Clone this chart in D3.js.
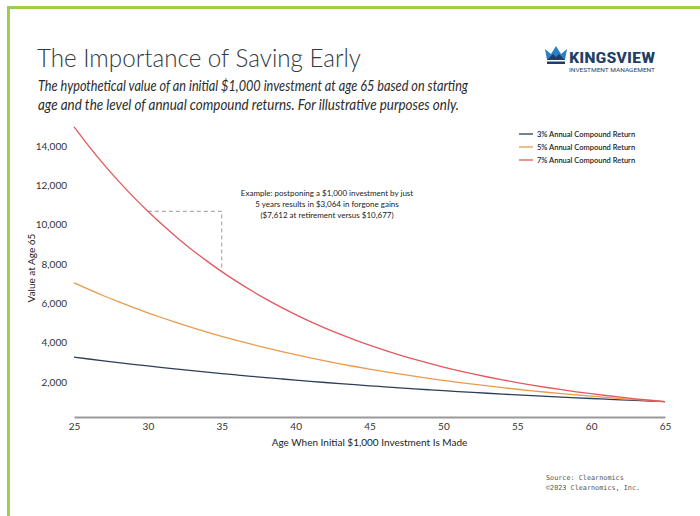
<!DOCTYPE html>
<html><head><meta charset="utf-8">
<script src="https://cdn.jsdelivr.net/npm/d3@7"></script>
<style>
html,body{margin:0;padding:0;background:#fff;}
svg{display:block;}
</style></head>
<body>
<svg id="chart" width="700" height="516"></svg>
<script>
const ages = d3.range(25, 66);
const xTicks = [25, 30, 35, 40, 45, 50, 55, 60, 65];
const yTicks = [2000, 4000, 6000, 8000, 10000, 12000, 14000];
const seriesNames = ["3% Annual Compound Return", "5% Annual Compound Return", "7% Annual Compound Return"];
const seriesColors = ["#2d3d5a", "#ea9a4c", "#e2585e"];
const r3 = [3262, 3167, 3075, 2985, 2898, 2814, 2732, 2652, 2575, 2500, 2427, 2357, 2288, 2221, 2157, 2094, 2033, 1974, 1916, 1860, 1806, 1754, 1702, 1653, 1605, 1558, 1513, 1469, 1426, 1384, 1344, 1305, 1267, 1230, 1194, 1159, 1126, 1093, 1061, 1030, 1000];
const r5 = [7040, 6705, 6385, 6081, 5792, 5516, 5253, 5003, 4765, 4538, 4322, 4116, 3920, 3733, 3556, 3386, 3225, 3072, 2925, 2786, 2653, 2527, 2407, 2292, 2183, 2079, 1980, 1886, 1796, 1710, 1629, 1551, 1477, 1407, 1340, 1276, 1216, 1158, 1103, 1050, 1000];
const r7 = [14974, 13995, 13079, 12224, 11424, 10677, 9978, 9325, 8715, 8145, 7612, 7114, 6649, 6214, 5807, 5427, 5072, 4741, 4430, 4141, 3870, 3617, 3380, 3159, 2952, 2759, 2579, 2410, 2252, 2105, 1967, 1838, 1718, 1606, 1501, 1403, 1311, 1225, 1145, 1070, 1000];
const exampleAges = [30, 35];
const exampleValues = [10677, 7612];
const annotationLines = ["Example: postponing a $1,000 investment by just", "5 years results in $3,064 in forgone gains", "($7,612 at retirement versus $10,677)"];

const svg = d3.select("#chart");
const sans = "'Source Sans Pro', Lato, 'Open Sans', sans-serif";

// green frame
svg.append("rect").attr("x", 7).attr("y", 6).attr("width", 700).attr("height", 3).attr("fill", "#9ccf4a");
svg.append("rect").attr("x", 7).attr("y", 6).attr("width", 3).attr("height", 520).attr("fill", "#9ccf4a");

// Title & subtitle
svg.append("text").attr("x", 37).attr("y", 67).text("The Importance of Saving Early")
  .style("font-family", "Lato, sans-serif").style("font-weight", 300).style("font-size", "25px").attr("fill", "#333a40")
  .attr("textLength", 324).attr("lengthAdjust", "spacingAndGlyphs");
const sub = ["The hypothetical value of an initial $1,000 investment at age 65 based on starting",
             "age and the level of annual compound returns. For illustrative purposes only."];
const subLen = [430, 421];
svg.selectAll("text.sub").data(sub).enter().append("text").attr("class", "sub")
  .attr("x", 38).attr("y", (d, i) => 91 + i * 19).text(d => d)
  .attr("textLength", (d, i) => subLen[i]).attr("lengthAdjust", "spacingAndGlyphs")
  .style("font-family", "Lato, sans-serif").style("font-style", "italic").style("font-size", "14.5px").attr("fill", "#2b2b2b");

// Logo
const logo = svg.append("g").attr("transform", "translate(545,46)");
logo.append("path").attr("d", "M0,3 L6,8 L11,0 L16,8 L22,3 L20,14 L2,14 Z").attr("fill", "#2a82c4");
logo.append("path").attr("d", "M2,14 L8,8 L11,11 L14,8 L20,14 Z").attr("fill", "#1f3f66");
logo.append("rect").attr("x", 2).attr("y", 15.5).attr("width", 18).attr("height", 2.5).attr("fill", "#1f3f66");
svg.append("text").attr("x", 569).attr("y", 63).text("KINGSVIEW")
  .style("font-family", "'Roboto Condensed', Roboto, sans-serif").style("font-weight", 700).style("font-size", "15px")
  .attr("fill", "#1f3f66").attr("textLength", 86).attr("lengthAdjust", "spacingAndGlyphs");
svg.append("text").attr("x", 569).attr("y", 72).text("INVESTMENT MANAGEMENT")
  .style("font-family", "Roboto, sans-serif").style("font-size", "5.5px")
  .attr("fill", "#1f3f66").attr("textLength", 86).attr("lengthAdjust", "spacingAndGlyphs");

// scales
const x = d3.scaleLinear().domain([25, 65]).range([74, 665]);
const y = d3.scaleLinear().domain([0, 15000]).range([421.3, 126.3]);

// baseline axis
const xAxis = d3.axisBottom(x).tickValues(xTicks).tickSize(0).tickPadding(6).tickFormat(d3.format("d"));
const gx = svg.append("g").attr("transform", "translate(0,417)").call(xAxis);
gx.select(".domain").attr("stroke", "#9a9a9a").attr("stroke-width", 2);
gx.selectAll("text").style("font-family", sans).style("font-size", "10px").attr("fill", "#333");

const yAxis = d3.axisLeft(y).tickValues(yTicks).tickSize(0).tickPadding(0).tickFormat(d3.format(","));
const gy = svg.append("g").attr("transform", "translate(74,0)").call(yAxis);
gy.select(".domain").remove();
gy.selectAll("text").attr("x", -7).style("font-family", sans).style("font-size", "10px").attr("fill", "#333");

// axis titles
svg.append("text").attr("x", x(45)).attr("y", 446).attr("text-anchor", "middle")
  .text("Age When Initial $1,000 Investment Is Made")
  .style("font-family", sans).style("font-size", "10px").attr("fill", "#222");
svg.append("text").attr("transform", "translate(35,268) rotate(-90)").attr("text-anchor", "middle")
  .text("Value at Age 65")
  .style("font-family", sans).style("font-size", "10px").attr("fill", "#222");

// annotation dashed lines
svg.append("path")
  .attr("d", d3.line()([[x(exampleAges[0]), y(exampleValues[0])], [x(exampleAges[1]), y(exampleValues[0])], [x(exampleAges[1]), y(exampleValues[1])]]))
  .attr("fill", "none").attr("stroke", "#9a9a9a").attr("stroke-width", 1).attr("stroke-dasharray", "4,3");

// lines
const seriesData = [r3, r5, r7];
const line = d3.line().x((d, i) => x(ages[i])).y(d => y(d)).curve(d3.curveMonotoneX);
svg.selectAll("path.series").data(seriesData).enter().append("path").attr("class", "series")
  .attr("d", line).attr("fill", "none").attr("stroke", (d, i) => seriesColors[i]).attr("stroke-width", 1.3);

// annotation text
svg.selectAll("text.ann").data(annotationLines).enter().append("text").attr("class", "ann")
  .attr("x", 327).attr("y", (d, i) => 196 + i * 11).attr("text-anchor", "middle").text(d => d)
  .style("font-family", sans).style("font-size", "8px").attr("fill", "#222");

// legend
const lg = svg.append("g").attr("transform", "translate(519,134)");
seriesNames.forEach((n, i) => {
  lg.append("line").attr("x1", 0).attr("x2", 14).attr("y1", i * 13).attr("y2", i * 13)
    .attr("stroke", seriesColors[i]).attr("stroke-width", 1.3);
  lg.append("text").attr("x", 18).attr("y", i * 13 + 2.7).text(n)
    .style("font-family", sans).style("font-weight", 600).style("font-size", "7.5px").attr("fill", "#222");
});

// source
const src = ["Source: Clearnomics", "\u00A92023 Clearnomics, Inc."];
svg.selectAll("text.src").data(src).enter().append("text").attr("class", "src")
  .attr("x", 546).attr("y", (d, i) => 480 + i * 9.5).text(d => d)
  .style("font-family", "'DejaVu Sans Mono', monospace").style("font-size", "6.8px").attr("fill", "#555");
</script>
</body></html>
